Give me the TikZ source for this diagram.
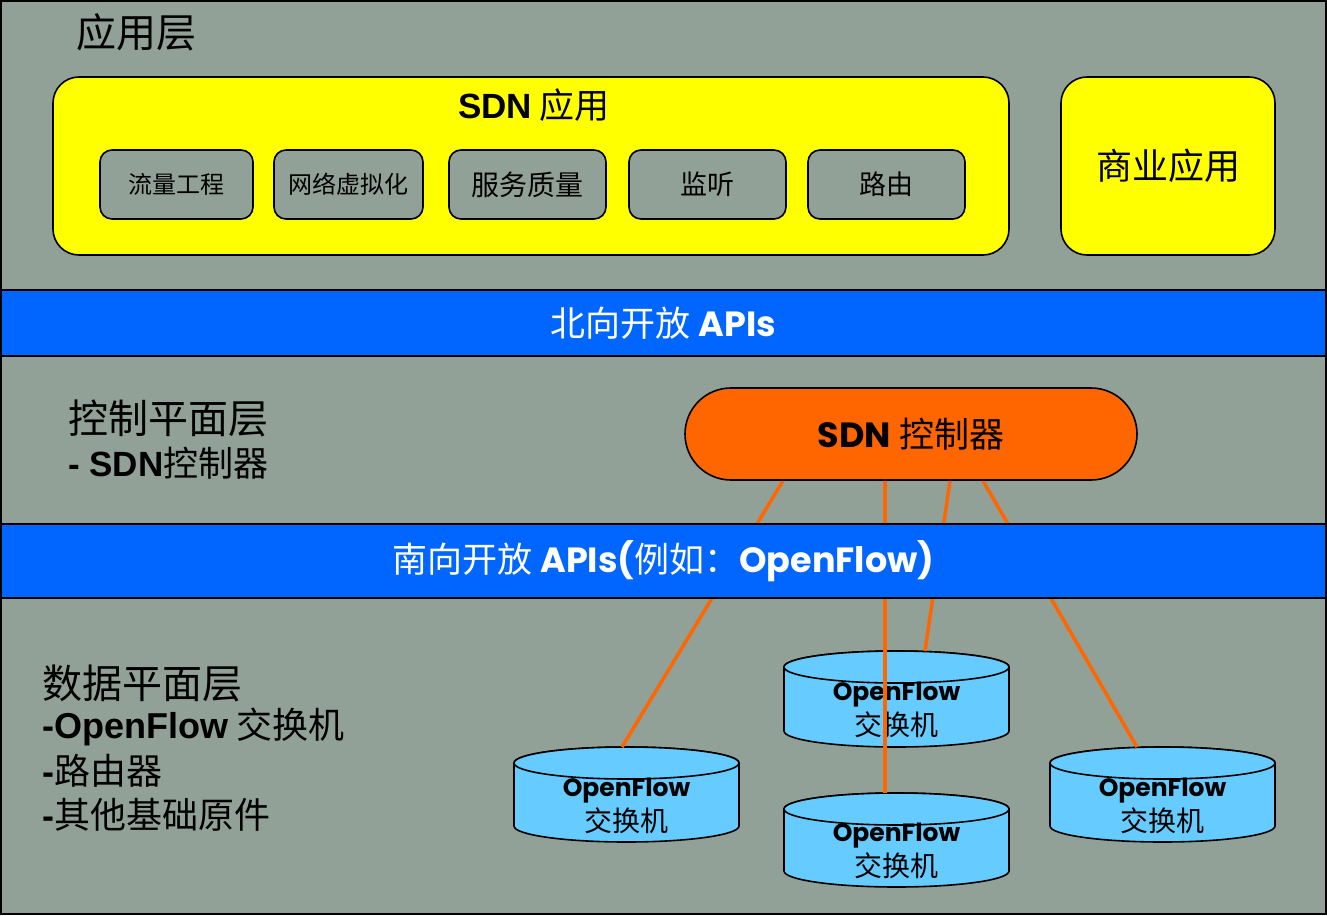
\documentclass[tikz,border=0pt]{standalone}
\usepackage{fontspec}
\newfontfamily\cjk{Noto Sans CJK SC}
\newfontfamily\geo{Poppins}
\newfontfamily\ari{Liberation Sans}
\usetikzlibrary{calc}
\definecolor{bgc}{RGB}{145,161,151}
\definecolor{bandc}{RGB}{0,102,255}
\definecolor{ylw}{RGB}{255,255,0}
\definecolor{orng}{RGB}{255,102,0}
\definecolor{cylc}{RGB}{102,204,255}
\pgfdeclarelayer{back}
\pgfdeclarelayer{wires}
\pgfsetlayers{back,wires,main}
\newcommand\fs[1]{\fontsize{#1}{#1}\selectfont}
\tikzset{
  appbox/.style={draw=black, line width=1.6pt, fill=ylw, rounded corners=26pt, minimum height=178pt, inner sep=0pt},
  subbox/.style={draw=black, line width=1.6pt, fill=bgc, rounded corners=12pt, minimum height=69pt, inner sep=0pt, font=\cjk},
  bandbox/.style={draw=black, line width=1.6pt, fill=bandc, minimum width=1327pt, inner sep=0pt, text=white},
  lbl/.style={inner sep=0pt, anchor=west, text=black},
  ctrlbox/.style={draw=black, line width=1.6pt, fill=orng, rounded corners=46pt, minimum width=452pt, minimum height=92pt, inner sep=0pt},
  cylst/.style={draw=black, line width=1.6pt, fill=cylc},
  cyltxt/.style={inner sep=0pt},
  wire/.style={draw=orng, line width=3.5pt},
}
\newcommand\drawcyl[3]{%
  \filldraw[cylst] (#1-112.5,#2) -- (#1-112.5,#3)
     arc[start angle=180, end angle=360, x radius=112.5pt, y radius=16pt]
     -- (#1+112.5,#2)
     arc[start angle=0, end angle=180, x radius=112.5pt, y radius=16pt] -- cycle;
  \filldraw[cylst] (#1,#2) ellipse[x radius=112.5pt, y radius=16pt];
}
\begin{document}
\begin{tikzpicture}[x=1pt,y=-1pt]
\useasboundingbox (0,0) rectangle (1327,915);
\begin{pgfonlayer}{back}
\fill[bgc] (0,0) rectangle (1327,915);
% cylinders
\drawcyl{626.5}{763}{826}
\drawcyl{896.5}{667}{731}
\drawcyl{896.5}{809}{871}
\drawcyl{1162.5}{763}{826}
\node[cyltxt, font=\geo\bfseries\fs{25}] (s1a) at (626.5,791) {OpenFlow};
\node[cyltxt, font=\cjk\fs{28}] (s1b) at (626.5,821) {交换机};
\node[cyltxt, font=\geo\bfseries\fs{25}] (s2a) at (896.5,695) {OpenFlow};
\node[cyltxt, font=\cjk\fs{28}] (s2b) at (896.5,725) {交换机};
\node[cyltxt, font=\geo\bfseries\fs{25}] (s3a) at (896.5,836) {OpenFlow};
\node[cyltxt, font=\cjk\fs{28}] (s3b) at (896.5,866) {交换机};
\node[cyltxt, font=\geo\bfseries\fs{25}] (s4a) at (1162.5,791) {OpenFlow};
\node[cyltxt, font=\cjk\fs{28}] (s4b) at (1162.5,821) {交换机};
\end{pgfonlayer}
\coordinate (t1) at (622,747);
\coordinate (t2) at (885,793);
\coordinate (t3) at (925,651);
\coordinate (t4) at (1137,747);

% application layer
\node[lbl, font=\cjk\fs{40}] (applbl) at (76,32) {应用层};
\node[appbox, minimum width=956pt] (sdnapp) at (531,166) {};
\node[inner sep=0pt, font=\cjk\fs{35}] (sdnapptitle) at (534,105) {{\ari\bfseries SDN} 应用};
\node[subbox, minimum width=153pt, font=\cjk\fs{24}] (b1) at (176.5,184.5) {流量工程};
\node[subbox, minimum width=149pt, font=\cjk\fs{24}] (b2) at (348.5,184.5) {网络虚拟化};
\node[subbox, minimum width=157pt, font=\cjk\fs{28}] (b3) at (527.5,184.5) {服务质量};
\node[subbox, minimum width=157pt, font=\cjk\fs{27}] (b4) at (707.5,184.5) {监听};
\node[subbox, minimum width=157pt, font=\cjk\fs{27}] (b5) at (886.5,184.5) {路由};
\node[appbox, minimum width=214pt, font=\cjk\fs{36}] (biz) at (1168,166) {商业应用};

% north band
\node[bandbox, minimum height=66pt, font=\cjk\fs{35}] (north) at (663.5,323) {北向开放 {\geo\bfseries APIs}};

% control layer
\node[lbl, font=\cjk\fs{40}] (ctllbl) at (68,418) {控制平面层};
\node[lbl, font=\cjk\fs{35}] (ctllbl2) at (68,463) {{\ari\bfseries - SDN}控制器};
\node[ctrlbox, font=\cjk\fs{35}] (ctrl) at (911,434) {{\geo\bfseries SDN} 控制器};

% connectors
\begin{pgfonlayer}{wires}
\draw[wire] ($(ctrl.south)+(-128,0)$) -- (t1);
\draw[wire] ($(ctrl.south)+(-26,0)$) -- (t2);
\draw[wire] ($(ctrl.south)+(39,0)$) -- (t3);
\draw[wire] ($(ctrl.south)+(72,0)$) -- (t4);
\end{pgfonlayer}

% south band
\node[bandbox, minimum height=74pt, font=\cjk\fs{35}] (south) at (663.5,561) {南向开放 {\geo\bfseries APIs(}例如：{\geo\bfseries OpenFlow)}};

% data layer
\node[lbl, font=\cjk\fs{40}] (datalbl) at (42,683) {数据平面层};
\node[lbl, font=\cjk\fs{36}] (d1) at (42,727) {{\ari\bfseries -OpenFlow} 交换机};
\node[lbl, font=\cjk\fs{36}] (d2) at (42,771) {{\ari\bfseries -}路由器};
\node[lbl, font=\cjk\fs{36}] (d3) at (42,815) {{\ari\bfseries -}其他基础原件};

% outer frame
\draw[line width=2.5pt] (1,1) rectangle (1326,914);
\end{tikzpicture}
\end{document}
